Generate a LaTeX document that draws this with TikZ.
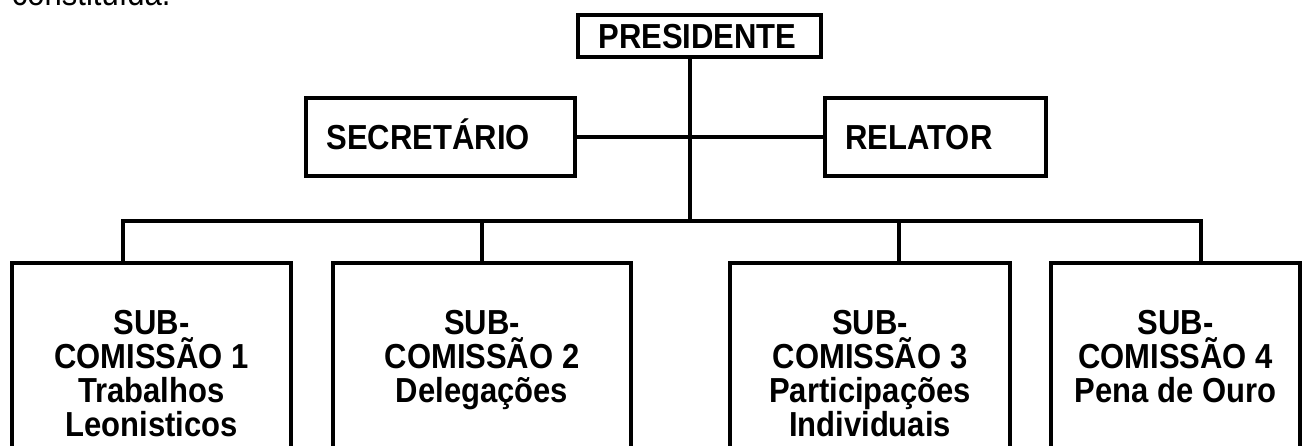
\documentclass[tikz,border=0pt]{standalone}
\usepackage{graphicx}
\usepackage{fontspec}
\setmainfont{Liberation Sans}
\newcommand{\tl}[1]{\scalebox{1}[1.12]{#1}}
\begin{document}
\begin{tikzpicture}[x=1pt,y=-1pt,
  every node/.style={inner sep=0pt, outer sep=0pt},
  ln/.style={line width=3.5pt},
  topbox/.style={draw, line width=3.5pt, font=\fontsize{31}{34}\selectfont\bfseries, align=left, inner xsep=20.5pt, inner ysep=0pt, text height=25pt, text depth=0pt},
  subbox/.style={draw, line width=3.5pt, anchor=north, minimum height=260pt},
  subtext/.style={font=\fontsize{31}{34}\selectfont\bfseries, align=center, anchor=north}]
\useasboundingbox (0,0) rectangle (1304,446);
\fill[white] (0,0) rectangle (1304,446);
\clip (0,0) rectangle (1304,446);

\node[font=\fontsize{31}{34}\selectfont, anchor=base west] (txt) at (12,6) {\tl{constituída.}};

\node[topbox, text width=202pt, minimum height=42pt] (pres) at (699.5,36) {\tl{PRESIDENTE}};
\node[topbox, text width=228pt, minimum height=78pt] (sec) at (440.5,137) {\tl{SECRETÁRIO}};
\node[topbox, text width=180pt, minimum height=78pt] (rel) at (935.5,137) {\tl{RELATOR}};

\node[subbox, minimum width=279pt] (s1) at (151.5,263) {};
\node[subbox, minimum width=298pt] (s2) at (482,263) {};
\node[subbox, minimum width=280pt] (s3) at (870,263) {};
\node[subbox, minimum width=249pt] (s4) at (1175.5,263) {};

\node[subtext] (t1) at (151.5,310) {\tl{SUB-}\\\tl{COMISSÃO 1}\\\tl{Trabalhos}\\\tl{Leonisticos}};
\node[subtext] (t2) at (482,310) {\tl{SUB-}\\\tl{COMISSÃO 2}\\\tl{Delegações}};
\node[subtext] (t3) at (870,310) {\tl{SUB-}\\\tl{COMISSÃO 3}\\\tl{Participações}\\\tl{Individuais}};
\node[subtext] (t4) at (1175.5,310) {\tl{SUB-}\\\tl{COMISSÃO 4}\\\tl{Pena de Ouro}};

\coordinate (d1) at (123,221);
\coordinate (d2) at (482,221);
\coordinate (d3) at (899,221);
\coordinate (d4) at (1201,221);
\coordinate (bc) at (690,221);

\draw[ln] (d1 |- s1.north) -- (d1) -- (d4) -- (d4 |- s4.north);
\draw[ln] (d2) -- (d2 |- s2.north);
\draw[ln] (d3) -- (d3 |- s3.north);
\draw[ln] (bc |- pres.south) -- (bc);
\draw[ln] (sec.east) -- (rel.west);
\end{tikzpicture}
\end{document}
